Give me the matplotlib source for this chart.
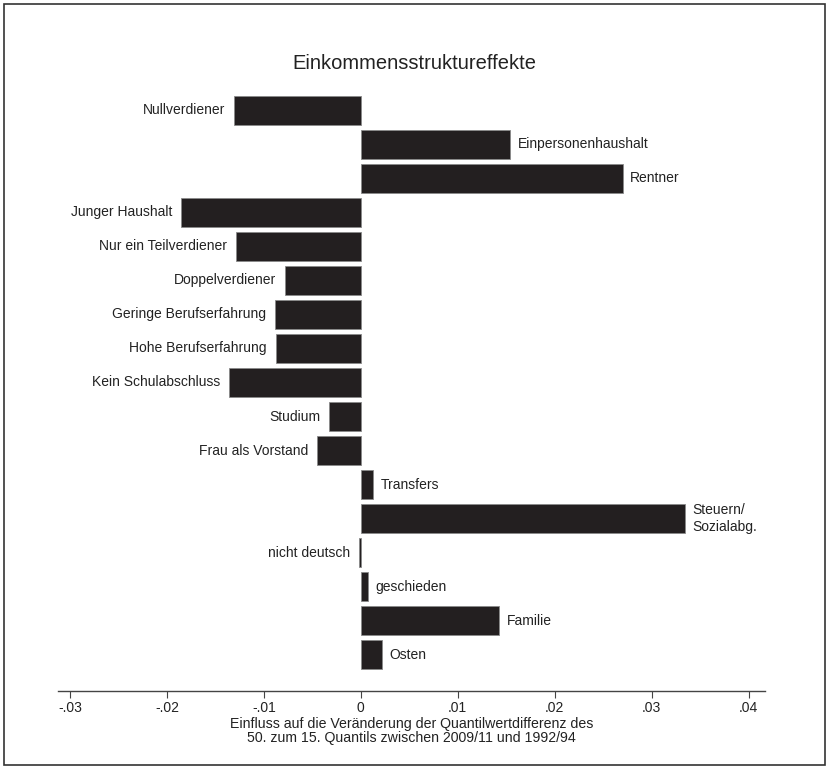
import matplotlib
matplotlib.use("Agg")
import matplotlib.pyplot as plt
from matplotlib.patches import Rectangle

plt.rcParams['font.family'] = ['Liberation Sans', 'DejaVu Sans']

categories = ["Nullverdiener", "Einpersonenhaushalt", "Rentner", "Junger Haushalt",
              "Nur ein Teilverdiener", "Doppelverdiener", "Geringe Berufserfahrung",
              "Hohe Berufserfahrung", "Kein Schulabschluss", "Studium",
              "Frau als Vorstand", "Transfers", "Steuern/\nSozialabg.", "nicht deutsch",
              "geschieden", "Familie", "Osten"]
values = [-0.0131, 0.0154, 0.0270, -0.0186, -0.0129, -0.0078, -0.0089, -0.0088,
          -0.0136, -0.0033, -0.0045, 0.0013, 0.0334, -0.0002, 0.0007, 0.0143, 0.0022]
xticks = [-0.03, -0.02, -0.01, 0, 0.01, 0.02, 0.03, 0.04]
xticklabels = ["-.03", "-.02", "-.01", "0", ".01", ".02", ".03", ".04"]
title = "Einkommensstruktureffekte"
xlabel = "Einfluss auf die Veränderung der Quantilwertdifferenz des\n50. zum 15. Quantils zwischen 2009/11 und 1992/94"

fig = plt.figure(figsize=(8.29, 7.68), dpi=100)
fig.patches.append(Rectangle((0.005, 0.004), 0.99, 0.991, transform=fig.transFigure,
                             fill=False, edgecolor="#333333", linewidth=1.2))

ax = fig.add_axes([0.0694, 0.1003, 0.8534, 0.7825])
pos = list(range(len(categories)))
ax.barh(pos, values, height=0.85, color="#231f20", edgecolor="#8a8a8a", linewidth=0.6)
for p, v, c in zip(pos, values, categories):
    if v >= 0:
        ax.text(v + 0.00075, p, c, ha="left", va="center", fontsize=10, color="#222222",
                linespacing=1.2)
    else:
        ax.text(v - 0.0009, p, c, ha="right", va="center", fontsize=10, color="#222222")

ax.set_ylim(17.07, -0.6)
ax.set_xlim(-0.0313, 0.0417)
ax.set_xticks(xticks)
ax.set_xticklabels(xticklabels, fontsize=10, color="#222222")
ax.set_yticks([])
for s in ["top", "right", "left"]:
    ax.spines[s].set_visible(False)
ax.spines["bottom"].set_color("#444444")
ax.spines["bottom"].set_linewidth(1.0)
ax.tick_params(axis="x", direction="out", length=5, width=0.8, color="#444444", pad=2)
ax.set_xlabel(xlabel, fontsize=10.2, color="#222222", labelpad=2, linespacing=0.95)
fig.text(0.5, 0.917, title, ha="center", va="center", fontsize=14.5, color="#222222")

fig.savefig("out.png", dpi=100)
